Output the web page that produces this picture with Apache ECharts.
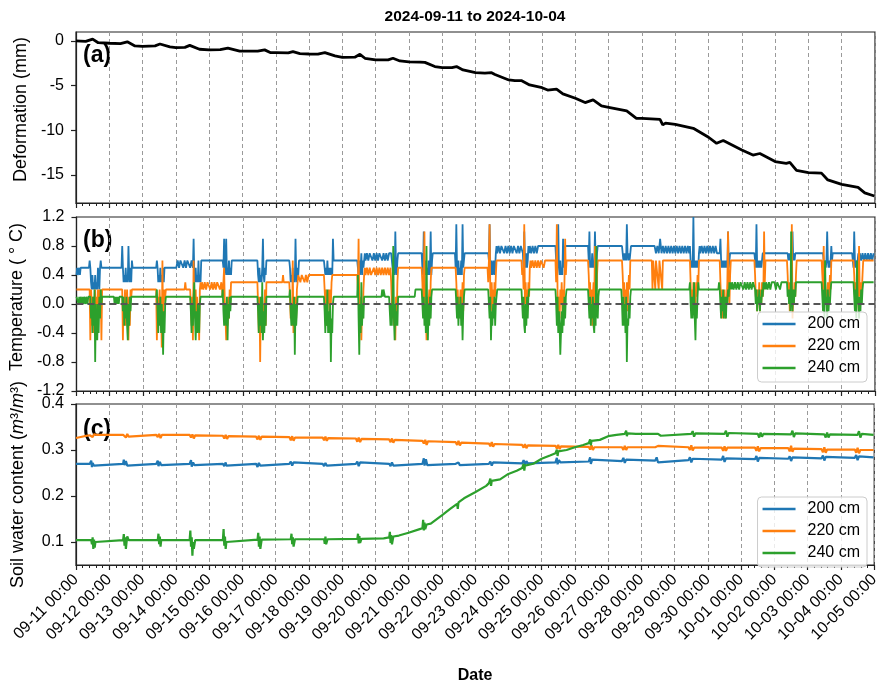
<!DOCTYPE html>
<html><head><meta charset="utf-8">
<script src="https://cdn.jsdelivr.net/npm/echarts@6/dist/echarts.min.js"></script>
<style>html,body{margin:0;padding:0;background:#fff}#c{width:882px;height:685px}</style>
</head><body><div id="c"></div>
<script>
// ---------- DATA ----------
const xTickLabels = ['09-11 00:00','09-12 00:00','09-13 00:00','09-14 00:00','09-15 00:00','09-16 00:00','09-17 00:00','09-18 00:00','09-19 00:00','09-20 00:00','09-21 00:00','09-22 00:00','09-23 00:00','09-24 00:00','09-25 00:00','09-26 00:00','09-27 00:00','09-28 00:00','09-29 00:00','09-30 00:00','10-01 00:00','10-02 00:00','10-03 00:00','10-04 00:00','10-05 00:00'];
const seriesNames = ['200 cm','220 cm','240 cm'];
const defTicks = [-15,-10,-5,0];
const swcTicks = [0.1,0.2,0.3,0.4];

// deformation: hours since 09-11 00:00 and mm
const defHours = [0,7,12,16,24,32,37,42.5,48,57,60.5,67.7,72,78.5,82,89,96,104,109.5,118,120,131,136,140,144,153,156.4,161.4,168,174.4,179.4,186.7,192,201,204.7,208.3,216,225,228.5,233.5,240,248,251.5,258.7,264,271,274.3,279,288,294.8,299.6,302,312,316.4,321,327,336,340,346.4,351,360,367,372.8,378.8,384,397,404,408,421,423,425,432,445,456,461.8,466.6,480,488,493,504,512,514.6,519.4,528,537.4,542,552,563.8,568.6,575.5];
const defMm = [0,-0.05,0.2,-0.2,-0.26,-0.3,-0.1,-0.56,-0.6,-0.55,-0.34,-0.67,-0.75,-0.72,-0.5,-0.93,-1.0,-0.98,-0.8,-1.15,-1.15,-1.15,-1.0,-1.3,-1.3,-1.33,-1.2,-1.42,-1.46,-1.47,-1.3,-1.68,-1.83,-1.82,-1.5,-1.94,-2.13,-2.12,-1.94,-2.24,-2.35,-2.38,-2.4,-2.87,-2.98,-2.98,-2.87,-3.25,-3.55,-3.6,-3.55,-3.75,-4.37,-4.45,-4.44,-4.93,-5.23,-5.5,-5.4,-5.93,-6.42,-6.9,-6.6,-7.28,-7.43,-7.84,-8.66,-8.66,-8.77,-9.4,-9.2,-9.33,-9.78,-10.78,-11.46,-11.15,-12.2,-12.77,-12.6,-13.5,-13.7,-13.6,-14.5,-14.74,-14.8,-15.56,-16.05,-16.4,-17.0,-17.36];

// temperature: segments [startHour, stepHours, [values °C]]
const temp200 = [
[0,0.5,[0.4,0.5,0.4,0.4,0.5,0.4,0.5,0.5]],
[9,0.5,[0.5,0.6,0.5,0.3,0.2,0.4,0.2,0.3,0.2,0.4,0.2,0.3,0.2,0.5,0.4,0.2,0.5,0.6,0.5,0.5]],
[32.5,0.5,[0.5,0.8,0.5,0.3,0.4,0.3,0.5,0.3,0.4,0.3,0.8,0.4,0.3,0.5,0.3,0.6,0.5,0.5]],
[57.5,0.5,[0.5,0.6,0.5,0.3,0.4,0.3,0.5,0.3,0.4,0.3,0.5,0.3,0.5,0.5]],
[72,1,[0.5,0.6,0.5,0.6,0.6,0.5,0.6,0.5,0.6,0.6,0.5,0.6]],
[83.5,0.5,[0.6,0.5,0.9,0.4,0.3,0.5,0.3,0.4,0.3,0.6,0.3,0.4,0.3,0.6,0.6]],
[105.5,0.5,[0.6,0.5,0.9,0.4,0.5,0.9,0.4,0.5,0.4,0.6,0.4,0.5,0.4,0.6,0.6]],
[130.5,0.5,[0.6,0.4,0.3,0.5,0.3,0.4,0.3,0.5,0.9,0.4,0.3,0.5,0.4,0.6,0.6]],
[153.5,0.5,[0.6,0.5,0.3,0.4,0.3,0.5,0.3,0.4,0.3,0.9,0.4,0.3,0.5,0.4,0.6,0.6]],
[178.5,0.5,[0.6,0.5,0.4,0.5,0.4,0.6,0.4,0.5,0.4,0.5,0.4,0.5,0.4,0.9,0.6,0.6]],
[202.5,0.5,[0.6,0.5,0.4,0.6,0.4,0.5,0.7,0.4,0.6,0.5,0.6,0.7]],
[208.5,1,[0.6,0.7,0.6,0.7,0.7,0.6,0.7,0.6,0.7,0.6,0.7,0.7,0.6,0.7,0.6,0.7,0.6,0.7]],
[227,0.5,[0.7,0.6,0.5,0.4,0.6,0.4,1.0,0.5,0.4,0.6,0.7,0.7]],
[249,0.5,[0.7,0.5,0.4,1.0,0.5,0.4,0.6,0.4,0.5,0.4,0.6,0.4,0.5,1.0,0.4,0.6,0.7,0.7]],
[273,0.5,[0.7,0.5,1.1,0.5,0.4,0.6,0.4,0.5,0.4,0.6,0.4,1.1,0.5,0.6,0.7,0.7]],
[297,0.5,[0.7,0.6,1.1,0.5,0.4,0.6,0.4,0.5,0.6,0.4,0.5,0.7,0.8]],
[303.5,1,[0.7,0.8,0.7,0.8,0.8,0.7,0.8,0.7,0.8,0.7,0.8,0.7,0.8,0.8,0.7,0.8,0.7,0.8]],
[321.5,0.5,[0.8,0.7,0.5,1.0,0.6,0.5,0.7,0.5,0.6,0.8,0.7]],
[327,1,[0.8,0.7,0.8,0.7,0.8,0.7,0.8,0.8]],
[345.5,0.5,[0.8,0.6,0.5,0.6,1.1,0.5,0.4,0.6,0.4,0.5,0.4,0.9,0.5,0.6,0.8,0.8]],
[369,0.5,[0.8,0.6,1.0,0.5,0.6,0.5,0.7,0.5,0.6,0.5,1.0,0.6,0.5,0.7,0.8,0.8]],
[393.5,0.5,[0.8,0.7,0.6,0.7,0.6,0.7,0.6,1.1,0.7,0.6,0.7,0.6,0.7,0.8,0.8]],
[417,1,[0.8,0.7,0.8,0.7,0.9,0.7,0.8,0.7,0.8,0.7,0.8,0.7,0.8,0.7,0.8,0.7,0.8,0.7,0.8,0.7,0.8,0.7,0.8,0.7,0.8,0.7]],
[442.5,0.5,[0.8,0.6,0.5,0.6,0.5,1.2,0.5,0.6,0.5,0.6,0.5,0.6,0.5,0.7,0.8]],
[450,1,[0.7,0.8,0.7,0.8,0.7,0.8,0.7,0.8,0.7,0.8,0.7,0.8,0.7,0.7]],
[464,0.5,[0.7,0.9,0.6,0.5,0.6,0.5,0.6,0.5,0.6,0.5,0.6,0.5,1.0,0.5,0.6,0.7,0.7]],
[489,0.5,[0.7,0.6,0.5,1.1,0.5,0.6,0.5,0.6,0.5,0.6,0.5,0.6,0.7,0.7]],
[513,0.5,[0.7,0.6,0.7,0.6,0.7,0.6,0.7,1.0,0.6,0.7,0.6,0.7,0.7]],
[538.5,0.5,[0.7,0.6,0.5,0.6,0.5,0.6,1.0,0.6,0.5,0.6,0.5,0.6,0.8,0.6,0.7,0.7]],
[559.5,0.5,[0.7,0.6,0.5,1.0,0.6,0.5,0.6,0.5,0.6,0.7,0.6]],
[565,1,[0.7,0.6,0.7,0.6,0.7,0.6,0.7,0.6,0.7,0.6,0.7]]
];
const temp220 = [
[0,0.5,[0.2]],
[9.5,0.5,[0.2,-0.5,0.2,0.0,-0.3,0.1,-0.4,0.0,0.2,-0.2,0.1,-0.3,0.2,0.0,0.2,0.1,0.2,-0.5,0.2,0.2]],
[33,0.5,[0.2,-0.5,0.1,-0.2,0.2,-0.3,0.0,0.2,-0.2,-0.5,0.1,-0.3,0.2,0.1,0.2,0.2]],
[57.5,0.5,[0.2,-0.5,0.1,-0.3,0.0,0.2,-0.2,0.1,-0.6,0.6,-0.4,0.0,0.2,0.1,0.2,0.2]],
[78,0.5,[0.2,0.3,0.2]],
[82,0.5,[0.2,0.0,-0.3,0.1,-0.5,0.6,-0.2,0.0,0.2,-0.3,0.1,-0.2,0.0,-0.5,0.2,0.3,0.2]],
[90.5,1,[0.3,0.2,0.3,0.2,0.3,0.3,0.2,0.3,0.2,0.3,0.2,0.3,0.3,0.2,0.3]],
[105,0.5,[0.3,0.1,0.3,0.5,0.0,-0.2,-0.5,0.0,-0.3,0.1,-0.2,0.2,0.0,0.3,0.3]],
[130.5,0.5,[0.3,0.0,-0.4,0.1,-0.8,0.0,-0.3,0.1,-0.4,0.0,-0.2,0.2,-0.3,0.3,0.3,0.3]],
[148.5,0.5,[0.3,0.4,0.3]],
[153.5,0.5,[0.3,0.1,-0.2,0.0,-0.3,0.6,-0.4,0.0,-0.3,0.1,-0.2,0.2,0.3,0.4]],
[160.5,1,[0.4,0.3,0.4,0.4,0.3,0.4,0.3,0.4,0.4,0.4]],
[178.5,0.5,[0.4,0.2,0.0,0.2,-0.3,0.1,0.0,0.2,-0.1,0.2,0.0,0.3,0.4,0.4]],
[202.5,0.5,[0.4,0.2,0.9,0.0,-0.3,0.1,-0.5,0.0,-0.2,0.2,0.4,0.5]],
[208.5,1,[0.4,0.5,0.4,0.5,0.4,0.4,0.5,0.4,0.5,0.4,0.5,0.4,0.5,0.4,0.5,0.4,0.5,0.4]],
[226.5,0.5,[0.5,0.3,0.0,-0.2,0.1,-0.3,0.0,-0.5,0.1,-0.2,0.3,0.5,0.5]],
[249,0.5,[0.5,0.3,0.0,0.2,1.0,-0.2,0.0,-0.5,0.1,-0.3,0.0,0.2,-0.2,0.3,0.5,0.5]],
[273.5,0.5,[0.5,0.3,0.0,0.2,-0.2,0.1,-0.1,0.2,-0.2,0.0,0.3,-0.1,0.4,0.5]],
[296.5,0.5,[0.5,0.3,0.6,1.1,0.2,-0.1,0.3,0.0,0.2,-0.1,0.3,0.1,0.4,0.6,0.6]],
[321,0.5,[0.6,0.4,0.5,0.2,1.1,0.0,0.3,-0.1,0.2,0.0,0.3,0.1,0.5,0.6]],
[328,1,[0.5,0.6,0.5,0.6,0.5,0.6,0.5,0.6,0.6,0.5,0.6]],
[345.5,0.5,[0.6,0.3,1.1,0.2,-0.2,0.1,-0.2,0.2,0.0,0.3,-0.1,0.2,0.0,0.3,0.9,0.4,0.6,0.6]],
[369,0.5,[0.6,0.4,0.1,0.3,-0.2,0.2,-0.3,0.1,0.3,0.0,0.8,0.2,0.0,0.4,0.6,0.6]],
[393.5,0.5,[0.6,0.4,0.1,0.3,-0.2,0.2,0.0,0.3,-0.1,0.2,0.4,0.2,0.6,0.6]],
[415,0.5,[0.6,0.2,0.6,0.6,0.6,0.2,0.6,0.6,0.6,0.6,0.2,0.6,0.6,0.6,0.6,0.2,0.6,0.6]],
[442.5,0.5,[0.6,0.3,0.0,0.2,-0.1,0.3,0.1,0.2,0.0,0.3,0.1,0.4,0.2,0.6,0.6]],
[464,0.5,[0.6,0.3,0.0,0.2,-0.2,0.1,-0.1,0.2,-0.2,0.1,0.0,0.3,1.0,0.2,0.0,0.4,0.6,0.6]],
[489,0.5,[0.6,0.4,0.1,0.2,-0.1,0.2,0.0,0.3,-0.1,0.2,0.0,0.3,0.1,0.2,1.0,0.3,0.6,0.6]],
[512.5,0.5,[0.6,0.4,0.1,0.3,-0.1,0.2,0.0,1.1,-0.2,0.2,0.0,0.3,0.1,0.4,0.6,0.6]],
[537.5,0.5,[0.6,0.4,0.2,0.8,0.1,0.3,0.0,0.2,0.1,0.3,0.0,0.2,0.4,0.2,0.6,0.6]],
[560.5,0.5,[0.6,0.4,0.1,0.3,-0.1,0.2,0.0,0.3,0.8,0.1,0.3,0.0,0.2,0.4,0.6,0.6]],
[575,0.5,[0.6]]
];
const temp240 = [
[0,0.5,[0.1]],
[1,0.5,[0.1,0.0,0.1,0.0,0.1,0.1,0.0,0.1,0.0,0.1,0.1,0.0,0.1,0.1,0.0,0.1]],
[10,0.5,[0.1,-0.2,0.0,-0.4,0.1,-0.3,0.2,-0.8,0.0,-0.3,-0.5,0.0,-0.4,0.1,-0.2,0.2,0.0,0.1,0.1]],
[27,0.5,[0.1,0.0,0.1,0.0,0.1,0.0,0.1,0.0,0.1,0.1]],
[33,0.5,[0.1,-0.1,0.1,-0.3,0.0,-0.2,0.1,-0.3,-0.5,0.0,-0.3,0.1,-0.1,0.1,0.1]],
[57.5,0.5,[0.1,0.2,-0.1,-0.4,0.0,-0.3,0.1,-0.4,0.0,-0.3,-0.7,-0.1,-0.4,0.0,0.1,0.1]],
[82,0.5,[0.1,-0.1,-0.4,0.0,-0.3,0.1,0.3,-0.2,-0.5,-0.1,-0.4,0.0,-0.3,-0.4,0.0,0.1,0.1]],
[105,0.5,[0.1,0.2,-0.1,-0.3,0.0,-0.2,-0.3,0.1,-0.5,0.0,-0.2,0.1,-0.1,0.1,0.1]],
[130.5,0.5,[0.1,-0.1,-0.4,0.0,-0.3,0.1,-0.4,0.3,-0.5,-0.1,-0.4,0.0,-0.3,0.1,0.1,0.1]],
[153.5,0.5,[0.1,0.2,-0.1,-0.3,0.0,-0.2,-0.3,0.1,-0.7,0.0,-0.3,-0.1,0.1,0.1]],
[178.5,0.5,[0.1,-0.1,-0.4,0.0,-0.3,0.2,-0.4,-0.1,-0.4,0.0,-0.8,-0.2,-0.4,0.0,0.1,0.1]],
[202.5,0.5,[0.1,0.4,-0.2,-0.7,0.0,-0.4,0.3,-0.3,0.0,-0.2,0.1,0.1]],
[220,0.5,[0.1,0.2,0.1,0.2,0.2,0.1,0.1]],
[225.5,0.5,[0.1,-0.1,-0.3,0.0,-0.3,0.1,0.8,-0.2,-0.5,0.0,-0.3,-0.1,-0.3,0.1,0.1]],
[244,0.5,[0.1,0.2]],
[249,0.5,[0.2,0.0,-0.2,0.1,-0.3,0.0,-0.4,0.8,-0.2,-0.5,0.0,-0.3,0.1,-0.2,0.1,0.2,0.2]],
[273.5,0.5,[0.2,0.0,-0.2,0.1,-0.3,0.0,-0.2,0.1,-0.3,0.0,-0.5,-0.1,0.1,0.2,0.2]],
[297,0.5,[0.2,0.0,-0.2,0.1,-0.5,-0.1,-0.3,0.0,-0.2,0.1,-0.3,0.0,0.1,0.2,0.2]],
[321,0.5,[0.2,0.0,-0.2,0.1,-0.3,-0.4,0.0,-0.3,0.1,-0.2,0.1,0.2,0.2]],
[345.5,0.5,[0.2,0.0,-0.3,0.1,-0.4,-0.1,-0.3,-0.7,-0.4,-0.1,-0.4,0.0,-0.3,0.1,-0.2,0.1,0.2,0.2]],
[369,0.5,[0.2,0.0,-0.2,0.1,-0.3,0.0,-0.2,0.1,-0.3,-0.4,0.0,-0.3,0.8,-0.1,-0.2,0.1,0.2,0.2]],
[393,0.5,[0.2,0.0,-0.3,0.1,-0.3,0.0,-0.4,0.1,-0.8,-0.2,-0.3,0.0,-0.2,0.1,0.2,0.2]],
[442,0.5,[0.2,0.3,0.0,-0.2,0.1,-0.2,0.0,0.3,-0.2,-0.5,0.0,-0.2,0.1,0.3,0.2,0.2]],
[463,0.5,[0.2,0.3,0.2,0.0,-0.2,0.1,-0.1,0.2,-0.2,0.0,0.1,-0.2,0.1,0.0,0.2,0.1,0.3,0.2,0.3,0.2,0.3]],
[474,1,[0.2,0.3,0.2,0.3,0.2,0.3,0.3,0.2,0.3,0.2,0.3,0.2,0.3,0.2,0.3]],
[489,0.5,[0.3,0.2,0.0,0.2,-0.1,0.1,0.0,0.2,-0.1,0.1,0.0,0.2,0.1,0.3,0.2,0.3,0.2,0.3]],
[498.5,1,[0.2,0.3,0.2,0.3,0.3,0.3,0.2,0.3,0.3,0.2,0.3,0.3]],
[512.5,0.5,[0.3,0.1,0.2,0.0,0.2,-0.1,1.0,0.1,-0.1,0.2,0.0,0.2,0.1,0.3,0.3]],
[537.5,0.5,[0.3,0.1,-0.1,0.2,-0.2,0.6,0.0,0.1,-0.2,0.2,-0.1,0.1,0.0,0.2,0.3,0.3]],
[560.5,0.5,[0.3,0.1,-0.1,0.2,-0.2,0.6,0.0,0.1,-0.2,0.1,-0.1,0.2,0.0,0.2,0.3,0.3]],
[575,0.5,[0.3]]
];

// soil water content: [hour, m3/m3]
const swc200 = [[0,0.270],[10,0.270],[11,0.277],[11.5,0.263],[12,0.272],[13,0.266],[14,0.270],[34,0.270],[34.5,0.279],[35,0.267],[36,0.276],[37,0.266],[38,0.270],[58,0.270],[59,0.277],[59.5,0.265],[60.5,0.274],[61.5,0.267],[62,0.270],[82,0.270],[83,0.278],[83.5,0.264],[84.5,0.273],[85.5,0.267],[86,0.270],[106,0.270],[107,0.265],[108,0.273],[108.5,0.266],[109.5,0.270],[130,0.270],[131,0.263],[132,0.272],[133,0.266],[134,0.270],[154,0.270],[155,0.275],[156,0.266],[157,0.273],[158,0.270],[178,0.270],[179,0.265],[180,0.272],[181,0.266],[182,0.270],[202,0.270],[203,0.275],[204,0.265],[205,0.273],[206,0.270],[226,0.270],[227,0.265],[228,0.273],[229,0.266],[230,0.270],[250,0.270],[251,0.282],[251.5,0.266],[252.5,0.280],[253.5,0.267],[254.5,0.270],[274,0.270],[275,0.266],[276,0.273],[277,0.267],[278,0.270],[298,0.270],[299,0.275],[300,0.266],[301,0.273],[302,0.270],[322,0.271],[323,0.278],[324,0.268],[325,0.276],[326,0.271],[346,0.273],[347,0.283],[347.5,0.269],[348.5,0.278],[349.5,0.273],[370,0.275],[371,0.284],[371.5,0.270],[372.5,0.279],[373.5,0.275],[394,0.276],[395,0.283],[396,0.272],[397,0.279],[398,0.276],[418,0.277],[419,0.284],[420,0.273],[421,0.277],[442,0.278],[443,0.284],[444,0.273],[445,0.281],[446,0.278],[466,0.279],[467,0.287],[468,0.274],[469,0.282],[470,0.279],[490,0.280],[491,0.287],[492,0.275],[493,0.283],[494,0.280],[514,0.281],[515,0.286],[516,0.276],[517,0.284],[518,0.281],[538,0.282],[539,0.288],[540,0.277],[541,0.285],[542,0.282],[562,0.283],[563,0.289],[564,0.278],[565,0.286],[566,0.283],[575.5,0.284]];
const swc220 = [[0,0.326],[6,0.330],[10,0.332],[11,0.336],[12,0.328],[13,0.334],[14,0.330],[15,0.333],[34,0.333],[35,0.337],[36,0.327],[37,0.335],[38,0.329],[39,0.333],[58,0.333],[59,0.328],[60,0.335],[61,0.326],[62,0.333],[82,0.333],[83,0.327],[84,0.334],[85,0.325],[86,0.332],[106,0.331],[107,0.325],[108,0.333],[109,0.324],[110,0.330],[130,0.329],[131,0.323],[132,0.331],[133,0.322],[134,0.329],[154,0.328],[155,0.321],[156,0.330],[157,0.320],[158,0.327],[178,0.327],[179,0.321],[180,0.329],[181,0.320],[182,0.326],[202,0.325],[203,0.318],[204,0.327],[205,0.317],[206,0.324],[226,0.323],[227,0.317],[228,0.325],[229,0.316],[230,0.322],[250,0.320],[251,0.314],[252,0.322],[253,0.311],[254,0.319],[274,0.317],[275,0.311],[276,0.320],[277,0.310],[278,0.316],[298,0.314],[299,0.308],[300,0.317],[301,0.307],[302,0.313],[322,0.311],[323,0.305],[324,0.313],[325,0.304],[326,0.310],[346,0.309],[347,0.303],[348,0.311],[349,0.302],[350,0.308],[370,0.307],[371,0.301],[372,0.310],[373,0.300],[374,0.306],[394,0.306],[395,0.300],[396,0.309],[397,0.300],[398,0.306],[418,0.306],[419,0.302],[420,0.309],[421,0.306],[442,0.306],[443,0.300],[444,0.310],[445,0.299],[446,0.305],[466,0.305],[467,0.298],[468,0.308],[469,0.298],[470,0.305],[490,0.305],[491,0.298],[492,0.308],[493,0.297],[494,0.304],[514,0.304],[515,0.297],[516,0.309],[517,0.296],[518,0.303],[538,0.302],[539,0.295],[540,0.306],[541,0.294],[542,0.301],[562,0.301],[563,0.294],[564,0.305],[565,0.293],[566,0.300],[575.5,0.300]];
const swc240 = [[0,0.104],[11,0.104],[11.5,0.095],[12,0.110],[12.5,0.085],[13,0.105],[13.5,0.088],[14,0.100],[15,0.104],[34,0.104],[34.5,0.117],[35,0.092],[35.5,0.110],[36,0.085],[36.5,0.100],[37,0.112],[38,0.104],[59,0.104],[59.5,0.118],[60,0.095],[60.5,0.112],[61,0.090],[61.5,0.104],[82,0.104],[82.5,0.125],[83,0.090],[83.5,0.110],[84,0.070],[84.5,0.100],[85,0.085],[86,0.104],[106,0.104],[106.5,0.128],[107,0.092],[107.5,0.112],[108,0.085],[108.5,0.100],[109.5,0.104],[131,0.105],[131.5,0.120],[132,0.090],[132.5,0.112],[133,0.085],[134,0.105],[155,0.106],[155.5,0.118],[156,0.095],[156.5,0.110],[157,0.090],[158,0.106],[179,0.106],[179.5,0.096],[180,0.112],[180.5,0.095],[181.5,0.106],[203,0.107],[203.5,0.118],[204,0.097],[204.5,0.113],[205,0.098],[206,0.107],[222,0.108],[226,0.110],[226.5,0.122],[227,0.098],[227.5,0.115],[228,0.095],[229,0.112],[233,0.114],[240,0.120],[248,0.128],[250,0.130],[250.5,0.148],[251,0.125],[251.5,0.142],[252,0.128],[253,0.138],[256,0.140],[264,0.158],[270,0.172],[275,0.183],[275.5,0.172],[276,0.186],[280,0.195],[288,0.208],[296,0.222],[298,0.228],[299,0.238],[299.5,0.222],[300,0.233],[306,0.236],[312,0.248],[318,0.255],[322,0.261],[323,0.270],[323.5,0.255],[324,0.266],[330,0.270],[336,0.281],[342,0.288],[346,0.293],[347,0.301],[347.5,0.287],[348,0.297],[354,0.300],[360,0.306],[366,0.311],[370,0.315],[371,0.323],[371.5,0.310],[372,0.320],[378,0.322],[384,0.330],[390,0.333],[396,0.335],[397,0.342],[397.5,0.330],[398,0.336],[404,0.335],[420,0.335],[421,0.338],[422,0.331],[423,0.335],[444,0.335],[445,0.341],[446,0.329],[447,0.336],[448,0.335],[468,0.335],[469,0.342],[470,0.329],[471,0.337],[472,0.335],[492,0.335],[493,0.327],[494,0.338],[495,0.329],[496,0.335],[516,0.334],[517,0.342],[518,0.328],[519,0.336],[520,0.334],[540,0.334],[541,0.327],[542,0.338],[543,0.327],[544,0.334],[564,0.333],[565,0.341],[566,0.327],[567,0.335],[568,0.333],[575.5,0.333]];

// ---------- BUILD ----------
function expand(segs){const out=[];segs.forEach(s=>{s[2].forEach((v,i)=>out.push([s[0]+i*s[1],v]));});return out;}
const defData = defHours.map((h,i)=>[h,defMm[i]]);
const colors = ['#1f77b4','#ff7f0e','#2ca02c'];
const FONT = '"Liberation Sans", Arial, sans-serif';
const tickColor = '#222';
const gridTop = [32,217,404], gridH = [171,174,173];
const NAME_FS = 18;

function xAxis(gi, showLabels){
  return {type:'value', gridIndex:gi, min:0, max:576, interval:24,
    axisLine:{show:true,onZero:false,lineStyle:{color:tickColor,width:1.2}},
    axisTick:{show:true,length:5,lineStyle:{color:tickColor,width:1.2}},
    minorTick:{show:true,splitNumber:5,length:3,lineStyle:{color:tickColor,width:1}},
    splitLine:{show:true,lineStyle:{color:'#9a9a9a',width:1,type:[4,3]}},
    axisLabel:{show:showLabels,rotate:45,margin:12,fontSize:16,color:'#000',fontFamily:FONT,
      formatter:v=>xTickLabels[Math.round(v/24)]},
    name: showLabels?'Date':'', nameLocation:'middle', nameGap:103,
    nameTextStyle:{fontSize:16,fontWeight:'bold',color:'#000',fontFamily:FONT}
  };
}
function yBase(gi, pad){
  return {type:'value', gridIndex:gi, splitLine:{show:false},
    axisLine:{show:true,onZero:false,lineStyle:{color:tickColor,width:1.2}},
    axisTick:{show:true,length:5,lineStyle:{color:tickColor,width:1.2}},
    axisLabel:{fontSize:16,color:'#000',fontFamily:FONT,margin:12},
    nameLocation:'middle', nameTextStyle:{fontSize:NAME_FS,color:'#000',fontFamily:FONT,padding:[0,0,0,pad]}};
}
const yA = Object.assign(yBase(0,16),{min:-18.14,max:1.0,name:'Deformation (mm)',nameGap:44});
yA.axisLabel.customValues = defTicks; yA.axisTick.customValues = defTicks;
const yB = Object.assign(yBase(1,14),{min:-1.2,max:1.2,interval:0.4,name:'Temperature ( \u00b0 C)',nameGap:49});
yB.axisLabel.formatter = v=> (Math.abs(v)<1e-9?0:v).toFixed(1);
const yC = Object.assign(yBase(2,0),{min:0.05,max:0.4,nameGap:49,
  name:'Soil water content ({it|m}\u00b3/{it|m}\u00b3)'});
yC.nameTextStyle.rich = {it:{fontStyle:'italic',fontSize:NAME_FS,fontFamily:FONT,color:'#000'}};
yC.axisLabel.customValues = swcTicks; yC.axisTick.customValues = swcTicks;
yC.axisLabel.formatter = v=>v.toFixed(1);

function lineSeries(name, data, xi, color, width, z){
  return {type:'line', name, data, xAxisIndex:xi, yAxisIndex:xi, showSymbol:false, symbol:'none',
    lineStyle:{color,width}, itemStyle:{color}, z, animation:false};
}
const series = [
  lineSeries('Deformation', defData, 0, '#000', 2.8, 2),
  lineSeries(seriesNames[0], expand(temp200), 1, colors[0], 1.8, 2),
  lineSeries(seriesNames[1], expand(temp220), 1, colors[1], 1.8, 3),
  lineSeries(seriesNames[2], expand(temp240), 1, colors[2], 1.8, 4),
  lineSeries(seriesNames[0], swc200, 2, colors[0], 2.2, 2),
  lineSeries(seriesNames[1], swc220, 2, colors[1], 2.2, 3),
  lineSeries(seriesNames[2], swc240, 2, colors[2], 2.2, 4)
];
series[3].markLine = {silent:true, symbol:'none', label:{show:false}, animation:false, z:6,
  lineStyle:{color:'#555',type:[7,4],width:1.8}, data:[{yAxis:0}]};

function legend(top){
  return {data:seriesNames, orient:'vertical', right:15, top, icon:'rect', itemWidth:33, itemHeight:2.5, itemGap:6,
    padding:[4,7,6,5], backgroundColor:'rgba(255,255,255,0.8)', borderColor:'#cccccc', borderWidth:1, borderRadius:4,
    textStyle:{fontSize:16,lineHeight:16,color:'#000',fontFamily:FONT,padding:[0,0,0,7]}, selectedMode:false, z:10};
}

const chart = echarts.init(document.getElementById('c'),null,{renderer:'canvas'});
chart.setOption({
  animation:false, backgroundColor:'#fff',
  grid: gridTop.map((t,i)=>({left:76,right:7,top:t,height:gridH[i],show:true,borderColor:tickColor,borderWidth:1.2,containLabel:false})),
  xAxis:[xAxis(0,false),xAxis(1,false),xAxis(2,true)],
  yAxis:[yA,yB,yC],
  legend:[legend(312),legend(497)],
  series,
  graphic:[
    {type:'text',x:475,y:17,style:{text:'2024-09-11 to 2024-10-04',font:'bold 15.5px '+FONT,fill:'#000',textAlign:'center',textVerticalAlign:'middle'}},
    {type:'text',x:83,y:56,style:{text:'(a)',font:'bold 23px '+FONT,fill:'#000',textAlign:'left',textVerticalAlign:'middle'}},
    {type:'text',x:83,y:241,style:{text:'(b)',font:'bold 23px '+FONT,fill:'#000',textAlign:'left',textVerticalAlign:'middle'}},
    {type:'text',x:83,y:430,style:{text:'(c)',font:'bold 23px '+FONT,fill:'#000',textAlign:'left',textVerticalAlign:'middle'}}
  ]
});
</script></body></html>
